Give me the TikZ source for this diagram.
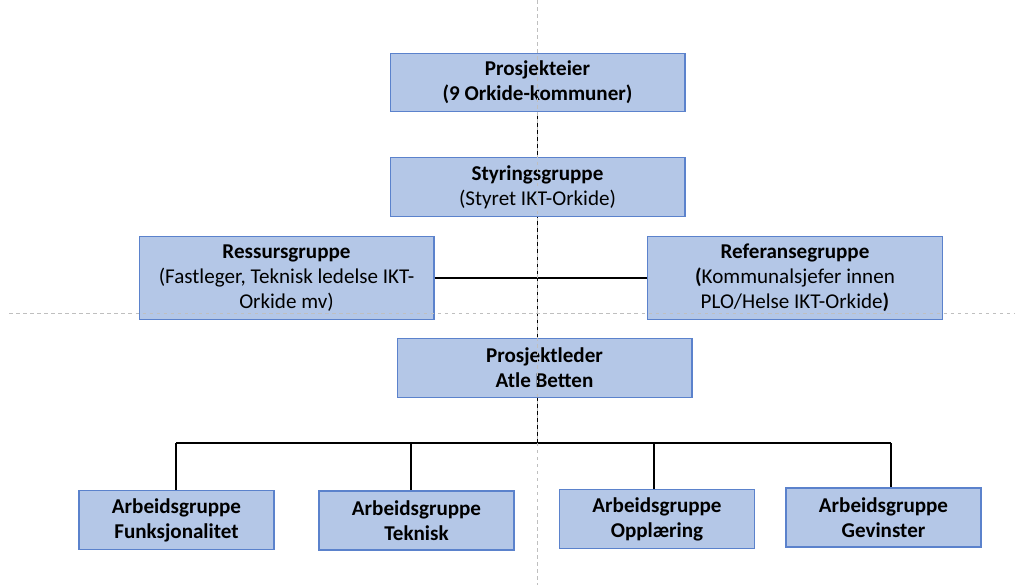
\documentclass[tikz,border=0pt]{standalone}
\usepackage{fontspec}
\setmainfont{Carlito}
\definecolor{boxfill}{HTML}{B4C7E7}
\definecolor{boxline}{HTML}{5B82CC}
\definecolor{guide}{HTML}{BFBFBF}
\tikzset{
  group/.style={rectangle,draw=boxline,fill=boxfill,line width=0.6pt,
    align=center,inner sep=0pt,font=\fontsize{12}{14.2}\selectfont},
  wide/.style={group,minimum width=5.9cm,minimum height=1.17cm},
  tall/.style={group,minimum width=5.9cm,minimum height=1.66cm},
  small/.style={group,minimum width=3.9cm,minimum height=1.18cm},
  link/.style={draw=black,line width=0.95pt},
  guideline/.style={draw=guide,line width=0.5pt,dash pattern=on 2pt off 2pt}
}
\begin{document}
\begin{tikzpicture}[x=0.02cm,y=-0.02cm]
        \useasboundingbox (0,0) rectangle (1015,585);

        \node[wide]  (eier)      at (537.5,82.5)  {\textbf{Prosjekteier}\\\textbf{(9 Orkide-kommuner)}};
        \node[wide]  (styring)   at (537.5,187)   {\textbf{Styringsgruppe}\\(Styret IKT-Orkide)};
        \node[tall]  (ressurs)   at (286.5,278)   {\textbf{Ressursgruppe}\\(Fastleger, Teknisk ledelse IKT-\\Orkide mv)};
        \node[tall]  (referanse) at (795,278)     {\textbf{Referansegruppe}\\\textbf{(}Kommunalsjefer innen\\PLO/Helse IKT-Orkide\textbf{)}};
        \node[wide]  (leder)     at (544.5,368)   {\textbf{Prosjektleder}\\\textbf{Atle Betten}};

        \begin{scope}[every node/.style={small}]
          \node (funksjon)  at (176.5,520)   {\textbf{Arbeidsgruppe}\\\textbf{Funksjonalitet}};
          \node (teknisk)   at (416.5,520.5) {\textbf{Arbeidsgruppe}\\\textbf{Teknisk}};
          \node (opplaring) at (657,519)     {\textbf{Arbeidsgruppe}\\\textbf{Oppl\ae ring}};
          \node (gevinst)   at (883.5,517.5) {\textbf{Arbeidsgruppe}\\\textbf{Gevinster}};
        \end{scope}

        % bus above the working groups
        \coordinate (bus1) at (176,443);
        \coordinate (bus2) at (411,443);
        \coordinate (bus3) at (654,443);
        \coordinate (bus4) at (891,443);
        \coordinate (bus)  at (537.5,443);

        \begin{scope}[every path/.style={link}]
          \path (eier.south) -- (styring.north);
          \path (styring.south) -- (styring.south |- leder.north);
          \path (ressurs.east) -- (referanse.west);
          \path (eier.south |- leder.south) -- (bus);
          \path (bus1) -- (bus4);
          \path (bus1) -- (bus1 |- funksjon.north);
          \path (bus2) -- (bus2 |- teknisk.north);
          \path (bus3) -- (bus3 |- opplaring.north);
          \path (bus4) -- (bus4 |- gevinst.north);
        \end{scope}

        % guides
        \coordinate (top)   at (537.5,0);
        \coordinate (foot)  at (537.5,585);
        \coordinate (left)  at (9,313);
        \coordinate (right) at (1015,313);
        \path[guideline] (top) -- (foot);
        \path[guideline] (left) -- (right);

      \end{tikzpicture}
\end{document}
